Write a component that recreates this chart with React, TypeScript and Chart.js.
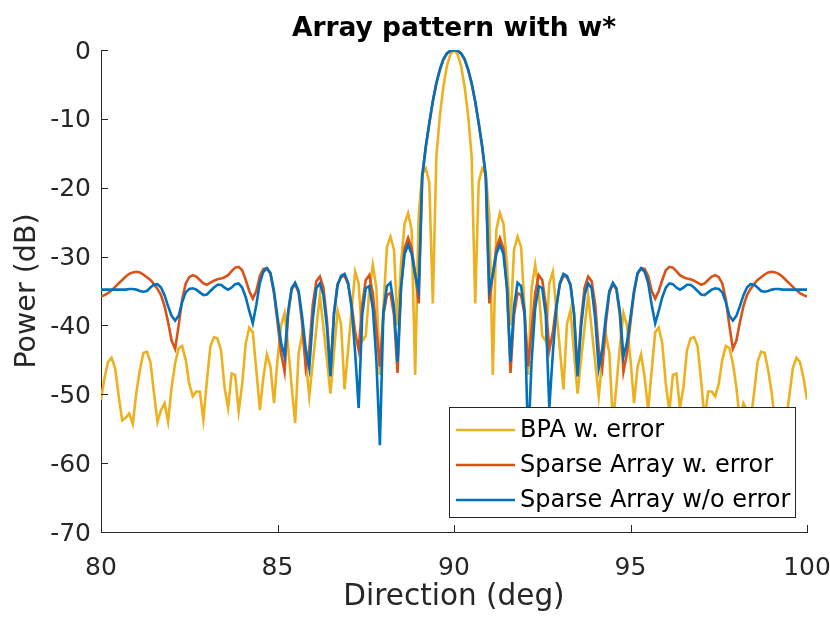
import { useEffect, useRef } from 'react';
import { Chart, registerables } from 'chart.js';

Chart.register(...registerables);

// sampling grid of the pattern: 80:0.1:100 deg
const directions = Array.from({ length: 201 }, (_, i) => +(80 + i * 0.1).toFixed(1));

const bpaWithError = [
  -50.8, -47.6, -45.3, -44.7, -46.2, -50.2, -53.8, -53.4, -52.8, -54.3,
  -49.8, -46.5, -44.0, -43.8, -45.3, -49.8, -54.0, -52.3, -51.3, -54.0,
  -49.0, -45.5, -43.3, -43.0, -45.0, -48.5, -50.3, -49.6, -49.6, -53.7,
  -48.0, -43.0, -41.7, -41.9, -43.6, -49.0, -52.0, -47.0, -47.2, -52.5,
  -48.5, -42.6, -40.3, -41.0, -46.5, -52.3, -47.5, -44.2, -46.0, -51.3,
  -45.0, -40.0, -38.2, -43.0, -48.8, -54.2, -44.0, -41.2, -45.0, -50.3,
  -45.4, -40.5, -35.6, -40.2, -45.0, -49.9, -44.0, -37.8, -39.8, -49.3,
  -43.5, -37.8, -32.2, -33.9, -42.3, -41.5, -35.0, -31.2, -34.5, -47.2,
  -37.5, -28.6, -27.1, -29.0, -40.0, -31.0, -25.2, -23.7, -26.1, -47.2,
  -24.0, -18.0, -17.2, -19.2, -36.8, -15.5, -9.5, -5.3, -2.3, -0.6,
  0,
  -0.6, -2.3, -5.3, -9.5, -15.5, -36.8, -19.2, -17.2, -18.0, -24.0,
  -47.2, -26.1, -23.7, -25.2, -31.0, -40.0, -29.0, -27.1, -28.6, -37.5,
  -47.2, -34.5, -31.2, -35.0, -41.5, -42.3, -33.9, -32.2, -37.8, -43.5,
  -49.3, -39.8, -37.8, -44.0, -49.9, -45.0, -40.2, -35.6, -40.5, -45.4,
  -50.3, -45.0, -41.2, -44.0, -54.2, -48.8, -43.0, -38.2, -40.0, -45.0,
  -51.3, -46.0, -44.2, -47.5, -52.3, -46.5, -41.0, -40.3, -42.6, -48.5,
  -52.5, -47.2, -47.0, -52.0, -49.0, -43.6, -41.9, -41.7, -43.0, -48.0,
  -53.7, -49.6, -49.6, -50.3, -48.5, -45.0, -43.0, -43.3, -45.5, -49.0,
  -54.0, -51.3, -52.3, -54.0, -49.8, -45.3, -43.8, -44.0, -46.5, -49.8,
  -54.3, -52.8, -53.4, -53.8, -50.2, -46.2, -44.7, -45.3, -47.6, -50.8,
];

const sparseWithError = [
  -35.8, -35.6, -35.3, -34.9, -34.4, -33.9, -33.4, -32.9, -32.5, -32.3,
  -32.2, -32.3, -32.6, -33.0, -33.4, -34.0, -34.7, -35.6, -37.2, -39.5,
  -42.2, -43.4, -40.0, -36.2, -33.9, -33.0, -32.7, -32.9, -33.4, -33.9,
  -34.1, -33.8, -33.5, -33.3, -33.2, -33.0, -32.7, -32.1, -31.6, -31.5,
  -32.0, -33.4, -35.0, -36.1, -35.0, -32.8, -31.8, -31.7, -32.5, -35.3,
  -39.5, -44.0, -46.7, -38.5, -34.8, -34.0, -35.3, -39.8, -46.2, -43.5,
  -37.0, -33.6, -32.9, -34.5, -39.2, -46.8, -38.2, -34.0, -33.0, -32.8,
  -34.0, -37.0, -41.0, -43.6, -37.0, -33.4, -32.7, -35.3, -40.5, -46.0,
  -38.5, -35.6, -35.3, -38.5, -46.9, -34.5, -28.8, -27.3, -28.8, -32.5,
  -36.8, -18.6, -14.2, -10.7, -7.5, -4.9, -2.9, -1.4, -0.5, -0.1,
  0,
  -0.1, -0.5, -1.4, -2.9, -4.9, -7.5, -10.7, -14.2, -18.6, -36.8,
  -32.5, -28.8, -27.3, -28.8, -34.5, -46.9, -38.5, -35.3, -35.6, -38.5,
  -46.0, -40.5, -35.3, -32.7, -33.4, -37.0, -43.6, -41.0, -37.0, -34.0,
  -32.8, -33.0, -34.0, -38.2, -46.8, -39.2, -34.5, -32.9, -33.6, -37.0,
  -43.5, -46.2, -39.8, -35.3, -34.0, -34.8, -38.5, -46.7, -44.0, -39.5,
  -35.3, -32.5, -31.7, -31.8, -32.8, -35.0, -36.1, -35.0, -33.4, -32.0,
  -31.5, -31.6, -32.1, -32.7, -33.0, -33.2, -33.3, -33.5, -33.8, -34.1,
  -33.9, -33.4, -32.9, -32.7, -33.0, -33.9, -36.2, -40.0, -43.4, -42.2,
  -39.5, -37.2, -35.6, -34.7, -34.0, -33.4, -33.0, -32.6, -32.3, -32.2,
  -32.3, -32.5, -32.9, -33.4, -33.9, -34.4, -34.9, -35.3, -35.6, -35.8,
];

const sparseNoError = [
  -34.8, -34.8, -34.8, -34.8, -34.8, -34.8, -34.8, -34.8, -34.7, -34.7,
  -34.8, -35.0, -35.1, -35.0, -34.5, -34.1, -34.0, -34.5, -35.6, -37.2,
  -38.6, -39.3, -38.6, -36.6, -35.2, -34.7, -34.6, -34.8, -35.2, -35.6,
  -35.5, -35.0, -34.5, -34.1, -34.1, -34.5, -34.8, -34.5, -34.0, -33.9,
  -34.5, -35.9, -37.9, -39.7, -37.0, -33.8, -32.2, -31.7, -32.4, -35.0,
  -38.8, -42.5, -44.5, -38.0, -34.6, -33.8, -35.0, -38.8, -43.5, -46.2,
  -39.0, -34.6, -33.9, -35.6, -40.2, -47.4, -38.3, -34.2, -32.8, -32.5,
  -33.8, -37.5, -44.0, -52.0, -38.5, -34.6, -34.3, -37.5, -45.0, -57.4,
  -38.0, -34.3, -33.8, -37.3, -45.3, -34.5, -29.6, -28.3, -29.6, -32.6,
  -34.9, -18.2, -14.0, -10.6, -7.4, -4.8, -2.8, -1.3, -0.5, -0.1,
  0,
  -0.1, -0.5, -1.3, -2.8, -4.8, -7.4, -10.6, -14.0, -18.2, -34.9,
  -32.6, -29.6, -28.3, -29.6, -34.5, -45.3, -37.3, -33.8, -34.3, -38.0,
  -57.4, -45.0, -37.5, -34.3, -34.6, -38.5, -52.0, -44.0, -37.5, -33.8,
  -32.5, -32.8, -34.2, -38.3, -47.4, -40.2, -35.6, -33.9, -34.6, -39.0,
  -46.2, -43.5, -38.8, -35.0, -33.8, -34.6, -38.0, -44.5, -42.5, -38.8,
  -35.0, -32.4, -31.7, -32.2, -33.8, -37.0, -39.7, -37.9, -35.9, -34.5,
  -33.9, -34.0, -34.5, -34.8, -34.5, -34.1, -34.1, -34.5, -35.0, -35.5,
  -35.6, -35.2, -34.8, -34.6, -34.7, -35.2, -36.6, -38.6, -39.3, -38.6,
  -37.2, -35.6, -34.5, -34.0, -34.1, -34.5, -35.0, -35.1, -35.0, -34.8,
  -34.7, -34.7, -34.8, -34.8, -34.8, -34.8, -34.8, -34.8, -34.8, -34.8,
];

const seriesNames = ['BPA w. error', 'Sparse Array w. error', 'Sparse Array w/o error'];
const seriesColors = ['#EDB120', '#D95319', '#0072BD'];

const FONT = 'DejaVu Sans';
const AXIS_COLOR = '#262626';

const toPoints = (values: number[]) => values.map((y, i) => ({ x: directions[i], y }));

// MATLAB look: inward ticks, boxed legend on top of the lines, title over the axes
const matlabDecor = {
  id: 'matlabDecor',
  afterDatasetsDraw(chart: any) {
    const { ctx, chartArea, scales } = chart;
    ctx.save();

    ctx.strokeStyle = AXIS_COLOR;
    ctx.lineWidth = 1;
    scales.x.ticks.forEach((t: any) => {
      const px = Math.round(scales.x.getPixelForValue(t.value)) + 0.5;
      ctx.beginPath();
      ctx.moveTo(px, chartArea.bottom);
      ctx.lineTo(px, chartArea.bottom - 7);
      ctx.stroke();
    });
    scales.y.ticks.forEach((t: any) => {
      const py = Math.round(scales.y.getPixelForValue(t.value)) + 0.5;
      ctx.beginPath();
      ctx.moveTo(chartArea.left, py);
      ctx.lineTo(chartArea.left + 7, py);
      ctx.stroke();
    });

    // legend box
    const boxW = 346;
    const boxH = 110;
    const boxX = chartArea.right - 12 - boxW;
    const boxY = chartArea.bottom - 15 - boxH;
    ctx.fillStyle = '#ffffff';
    ctx.fillRect(boxX, boxY, boxW, boxH);
    ctx.strokeStyle = AXIS_COLOR;
    ctx.strokeRect(Math.round(boxX) + 0.5, Math.round(boxY) + 0.5, boxW, boxH);

    ctx.font = `24px "${FONT}"`;
    ctx.textBaseline = 'middle';
    ctx.textAlign = 'left';
    seriesNames.forEach((name, i) => {
      const rowY = boxY + 23 + i * 35;
      ctx.strokeStyle = seriesColors[i];
      ctx.lineWidth = 2.6;
      ctx.beginPath();
      ctx.moveTo(boxX + 7, rowY);
      ctx.lineTo(boxX + 66, rowY);
      ctx.stroke();
      ctx.fillStyle = '#000000';
      ctx.fillText(name, boxX + 71, rowY + 1);
    });

    ctx.font = `bold 26.5px "${FONT}"`;
    ctx.textAlign = 'center';
    ctx.textBaseline = 'alphabetic';
    ctx.fillStyle = '#000000';
    ctx.fillText('Array pattern with w*', (chartArea.left + chartArea.right) / 2, 36);

    ctx.restore();
  },
};

export default function App() {
  const canvasRef = useRef<HTMLCanvasElement>(null);
  const chartRef = useRef<Chart | null>(null);

  useEffect(() => {
    if (!canvasRef.current) return;

    if (chartRef.current) {
      chartRef.current.destroy();
    }

    const line = (values: number[], idx: number) => ({
      label: seriesNames[idx],
      data: toPoints(values),
      borderColor: seriesColors[idx],
      backgroundColor: seriesColors[idx],
      borderWidth: 2.6,
      pointRadius: 0,
      tension: 0,
      fill: false,
    });

    chartRef.current = new Chart(canvasRef.current, {
      type: 'line',
      data: {
        // first dataset is drawn on top, so blue goes first
        datasets: [line(sparseNoError, 2), line(sparseWithError, 1), line(bpaWithError, 0)],
      },
      options: {
        animation: false,
        responsive: true,
        maintainAspectRatio: false,
        layout: { padding: { top: 50, right: 23, left: 0, bottom: 0 } },
        plugins: {
          legend: { display: false },
          title: { display: false },
          tooltip: { enabled: false },
        },
        scales: {
          x: {
            type: 'linear',
            min: 80,
            max: 100,
            ticks: {
              stepSize: 5,
              color: AXIS_COLOR,
              font: { family: FONT, size: 25 },
              padding: 21,
              maxRotation: 0,
            },
            grid: { drawOnChartArea: false, drawTicks: false },
            border: { display: true, color: AXIS_COLOR, width: 1 },
            title: {
              display: true,
              text: 'Direction (deg)',
              color: AXIS_COLOR,
              font: { family: FONT, size: 29.5 },
              padding: { top: 0, bottom: 8 },
            },
            afterFit: (scale: any) => {
              scale.height = 91;
              scale.paddingLeft = 0;
              scale.paddingRight = 0;
            },
          },
          y: {
            type: 'linear',
            min: -70,
            max: 0,
            ticks: {
              stepSize: 10,
              color: AXIS_COLOR,
              font: { family: FONT, size: 25 },
              padding: 10,
              labelOffset: 2,
            },
            grid: { drawOnChartArea: false, drawTicks: false },
            border: { display: true, color: AXIS_COLOR, width: 1 },
            title: {
              display: true,
              text: 'Power (dB)',
              color: AXIS_COLOR,
              font: { family: FONT, size: 28.5 },
              padding: { top: 10, bottom: 0 },
            },
            afterFit: (scale: any) => {
              scale.width = 101;
            },
          },
        },
      },
      plugins: [matlabDecor],
    });

    return () => {
      if (chartRef.current) {
        chartRef.current.destroy();
        chartRef.current = null;
      }
    };
  }, []);

  return (
    <div style={{ position: 'absolute', left: 0, top: 0, width: 830, height: 623, background: '#ffffff' }}>
      <canvas ref={canvasRef}></canvas>
    </div>
  );
}
